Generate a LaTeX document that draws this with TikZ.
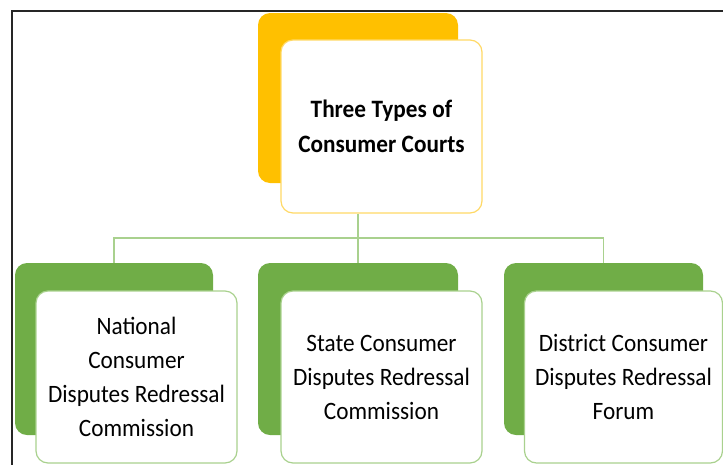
\documentclass[tikz,border=0pt]{standalone}
\usepackage{fontspec}
\setmainfont{Carlito}[FakeStretch=0.93]
\usetikzlibrary{backgrounds}
\definecolor{ygold}{HTML}{FFC000}
\definecolor{ylite}{HTML}{FFD966}
\definecolor{gmain}{HTML}{70AD47}
\definecolor{glite}{HTML}{A9D18E}
\newcommand\tightspaces{\spaceskip=5.5pt\relax\xspaceskip=5.5pt\relax}
\tikzset{
  backbox/.style={rectangle, rounded corners=12pt, minimum width=200pt, minimum height=171pt, inner sep=0pt},
  frontbox/.style={rectangle, rounded corners=12pt, minimum width=201pt, minimum height=172pt, inner sep=0pt, fill=white, line width=1.2pt, align=center, text width=198pt, execute at begin node=\tightspaces},
  conn/.style={draw=glite, line width=1.5pt},
  txt/.style={font=\fontsize{25}{34}\selectfont},
  btxt/.style={font=\fontsize{25}{35}\selectfont\bfseries}
}
\begin{document}
\begin{tikzpicture}[x=1pt,y=-1pt]
\useasboundingbox (0,0) rectangle (723,464);
% frame
\draw[line width=2pt, black!85] (11.5,470) -- (11.5,10.5) -- (730,10.5);
% top
\node[backbox, fill=ygold, minimum height=170pt] (tback) at (358,98) {};
\node[frontbox, draw=ylite, minimum height=173pt, btxt] (top) at (381.5,126.5) {Three Types of\\Consumer Courts};
% bottom backs
\node[backbox, fill=gmain, minimum width=198pt, minimum height=172pt] (lback) at (114,349) {};
\node[backbox, fill=gmain, minimum height=172pt] (mback) at (358,349) {};
\node[backbox, fill=gmain, minimum width=199pt, minimum height=172pt] (rback) at (603.5,349) {};
% bottom fronts
\node[frontbox, draw=glite, txt] (left) at (136.5,377) {National\\Consumer\\Disputes Redressal\\Commission};
\node[frontbox, draw=glite, txt] (mid) at (381.5,377) {State Consumer\\Disputes Redressal\\Commission};
\node[frontbox, draw=glite, minimum width=198pt, txt] (right) at (623.5,377) {District Consumer\\Disputes Redressal\\Forum};
% connectors
\coordinate (hub) at (358,238);
\begin{scope}[on background layer]
\draw[conn] (top.south -| hub) -- (hub);
\draw[conn] (hub) -| (lback.north);
\draw[conn] (hub) -- (mback.north);
\draw[conn] (hub) -| (rback.north);
\end{scope}
\end{tikzpicture}
\end{document}
